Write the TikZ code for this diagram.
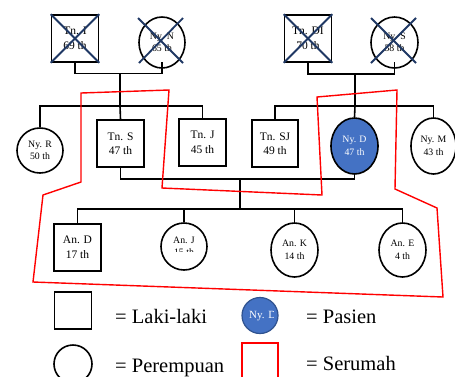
\documentclass[tikz,border=0pt]{standalone}
\usepackage{fontspec}
\setmainfont{Liberation Serif}
\usetikzlibrary{shapes.geometric,calc}
\definecolor{deadx}{HTML}{1F3864}
\definecolor{pasien}{HTML}{4472C4}
\definecolor{pasienedge}{HTML}{2F528F}

\begin{document}
\begin{tikzpicture}[x=1pt,y=-1pt,
  male/.style={draw, line width=1.6pt, minimum width=47pt, minimum height=47pt,
    inner sep=0pt, align=center, font=\fontsize{11.5}{14.5}\selectfont},
  female/.style={ellipse, draw, line width=1.6pt, inner sep=0pt, align=center,
    font=\fontsize{9.8}{12.5}\selectfont},
  link/.style={line width=1.6pt},
  dead/.style={draw=deadx, line width=1.8pt},
  house/.style={draw=red, line width=1.4pt, line join=miter},
  legendtext/.style={anchor=base west, inner sep=0pt, font=\fontsize{20.5}{24}\selectfont}]

% canvas
\fill[white] (0,0) rectangle (455,376);
\clip (0,0) rectangle (455,376);

% grandparents
\node[male] (tnI) at (75,38.5) {Tn. I\\69 th};
\node[female, minimum width=46pt, minimum height=51pt] (nyN) at (162,42.5) {Ny. N\\65 th};
\node[male] (tnDI) at (308,38.5) {Tn. DI\\70 th};
\node[female, minimum width=47pt, minimum height=51pt] (nyS) at (394.5,42.5) {Ny. S\\58 th};

% parents' generation
\node[female, minimum width=46pt, minimum height=45pt] (nyR) at (40,150.5) {Ny. R\\50 th};
\node[male] (tnS) at (120.5,143.5) {Tn. S\\47 th};
\node[male] (tnJ) at (202.5,142.5) {Tn. J\\45 th};
\node[male, minimum width=46pt] (tnSJ) at (275,143.5) {Tn. SJ\\49 th};
\node[female, fill=pasien, text=white, minimum width=47pt, minimum height=56pt] (nyD) at (354.5,146) {Ny. D\\47 th};
\node[female, minimum width=45pt, minimum height=56pt] (nyM) at (433.5,146) {Ny. M\\43 th};

% children
\node[male] (anD) at (77.5,247.5) {An. D\\17 th};
\node[female, minimum width=46pt, minimum height=47pt] (anJ) at (184,246.5) {};
\begin{scope}
  \clip (150,200) rectangle (220,251.5);
  \node[align=center, inner sep=0pt, font=\fontsize{9.8}{12.5}\selectfont] (anJtext) at (anJ.center) {An. J\\15 th};
\end{scope}
\node[female, minimum width=47pt, minimum height=54pt] (anK) at (294.5,250) {An. K\\14 th};
\node[female, minimum width=47pt, minimum height=54pt] (anE) at (402.5,250) {An. E\\4 th};

% marriage and sibling lines, left family
\coordinate (m1) at (120,73.5);
\coordinate (s1) at (120,106);
\draw[link] (tnI.south) |- (m1) -| ($(nyN.south)+(0,-7)$);
\draw[link] (m1) -- (s1);
\draw[link] (nyR.north) |- (s1) -| (tnJ.north);
\draw[link] (s1) -- (tnS.north);

% marriage and sibling lines, right family
\coordinate (m2) at (355,74);
\coordinate (s2) at (355,106);
\draw[link] (tnDI.south) |- (m2) -| ($(nyS.south)+(0,-7)$);
\draw[link] (m2) -- (s2);
\draw[link] (tnSJ.north) |- (s2) -| (nyM.north);
\draw[link] (s2) -- (nyD.north);

% couple and their children
\coordinate (c) at (240,179);
\coordinate (k) at (240,209);
\draw[link] (tnS.south) |- (c) -| (nyD.south);
\draw[link] (c) -- (k);
\draw[link] (anD.north) |- (k) -| (anE.north);
\draw[link] (anJ.north) -- (anJ.north |- k);
\draw[link] (anK.north) -- (anK.north |- k);

% deceased marks
\draw[dead] (tnI.north west) -- (tnI.south east);
\draw[dead] (tnI.north east) -- (tnI.south west);
\draw[dead] (tnDI.north west) -- (tnDI.south east);
\draw[dead] (tnDI.north east) -- (tnDI.south west);
\draw[dead] ($(nyN.center)+(-24,-24.5)$) -- ($(nyN.center)+(21,20.5)$);
\draw[dead] ($(nyN.center)+(21,-24.5)$) -- ($(nyN.center)+(-23,20.5)$);
\draw[dead] ($(nyS.center)+(-23.5,-24.5)$) -- ($(nyS.center)+(21.5,20.5)$);
\draw[dead] ($(nyS.center)+(21.5,-24.5)$) -- ($(nyS.center)+(-23.5,20.5)$);

% household boundary
\draw[house] (81,93) -- (169,90) -- (162,188) -- (322,195) -- (317,97) -- (397,90)
  -- (395,189) -- (437,208) -- (443,297) -- (33,282) -- (43,195) -- (81,182) -- cycle;

% legend
\node[draw, line width=1.6pt, minimum size=37pt, inner sep=0pt] (legM) at (73,310.5) {};
\node[legendtext] (legMtext) at (115,323) {= Laki-laki};
\node[circle, fill=pasien, draw=pasienedge, line width=1.2pt, minimum size=36pt, inner sep=0pt] (legP) at (260,315.5) {};
\begin{scope}
  \clip (240,295) rectangle (273.5,340);
  \node[anchor=west, text=white, inner sep=0pt, font=\fontsize{11}{13}\selectfont] (legPtext) at (249,316) {Ny. D};
\end{scope}
\node[legendtext] (legPlabel) at (306,323) {= Pasien};
\node[circle, draw, line width=1.6pt, minimum size=38pt, inner sep=0pt] (legF) at (73,364) {};
\node[legendtext] (legFtext) at (115,372) {= Perempuan};
\node[draw=red, line width=1.4pt, minimum width=36pt, minimum height=40pt, inner sep=0pt] (legH) at (260,363) {};
\node[legendtext] (legHtext) at (306,370) {= Serumah};
\end{tikzpicture}
\end{document}
